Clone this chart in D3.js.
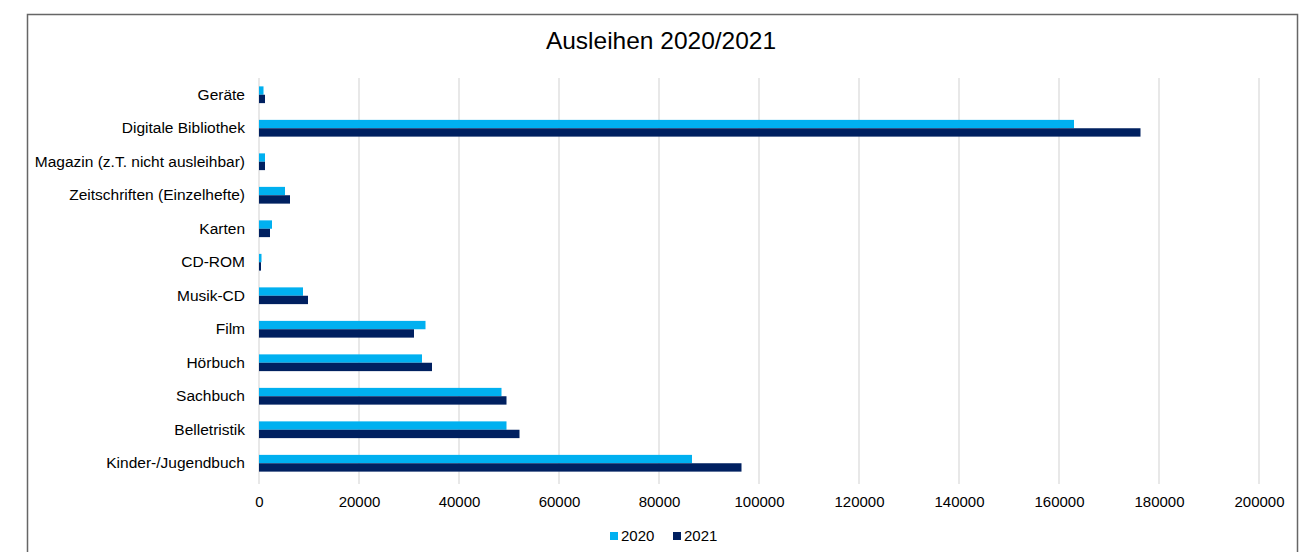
<!DOCTYPE html>
<html>
<head>
<meta charset="utf-8">
<script src="https://cdn.jsdelivr.net/npm/d3@7"></script>
<style>
  body { margin: 0; background: #fff; }
  svg text { font-family: "Liberation Sans", Arial, sans-serif; fill: #000; }
</style>
</head>
<body>
<div id="chart"></div>
<script>
// Daten (von oben nach unten)
const kategorien = [
    "Geräte",
    "Digitale Bibliothek",
    "Magazin (z.T. nicht ausleihbar)",
    "Zeitschriften (Einzelhefte)",
    "Karten",
    "CD-ROM",
    "Musik-CD",
    "Film",
    "Hörbuch",
    "Sachbuch",
    "Belletristik",
    "Kinder-/Jugendbuch"
];
const jahre = ["2020", "2021"];
const werte2020 = [900, 163000, 1200, 5200, 2600, 500, 8800, 33300, 32600, 48500, 49500, 86600];
const werte2021 = [1200, 176300, 1200, 6200, 2200, 400, 9800, 31000, 34600, 49500, 52100, 96500];
const xTicks = [0, 20000, 40000, 60000, 80000, 100000, 120000, 140000, 160000, 180000, 200000];
const farben = ["#00B0F0", "#002060"];

const W = 1316, H = 552;
const plot = { left: 259, right: 1259, top: 78, bottom: 480 };
const schrift = "'Liberation Sans', Arial, sans-serif";

const svg = d3.select("#chart").append("svg")
    .attr("width", W)
    .attr("height", H);

svg.append("rect")
    .attr("width", W).attr("height", H)
    .attr("fill", "#fff");

// Rahmen
svg.append("rect")
    .attr("x", 27.5).attr("y", 14.5)
    .attr("width", 1270).attr("height", 560)
    .attr("fill", "none")
    .attr("stroke", "#666")
    .attr("stroke-width", 1.5);

svg.append("text")
    .attr("x", 661).attr("y", 49)
    .attr("text-anchor", "middle")
    .style("font-size", "24.5px")
    .text("Ausleihen 2020/2021");

const x = d3.scaleLinear()
    .domain([0, 200000])
    .range([plot.left, plot.right]);

const y = d3.scaleBand()
    .domain(kategorien)
    .range([plot.top, plot.bottom])
    .paddingInner(0.5)
    .paddingOuter(0.25);

const y1 = d3.scaleBand()
    .domain(jahre)
    .range([0, y.bandwidth()]);

// Gitterlinien
svg.append("g")
    .selectAll("line")
    .data(xTicks)
    .enter()
    .append("line")
    .attr("x1", d => x(d)).attr("x2", d => x(d))
    .attr("y1", plot.top).attr("y2", plot.bottom + 4)
    .attr("stroke", "#d9d9d9")
    .attr("stroke-width", 1.2);

// X-Achse
const xAxis = svg.append("g")
    .attr("transform", `translate(0, ${plot.bottom})`)
    .call(d3.axisBottom(x).tickValues(xTicks).tickFormat(d3.format("d")).tickSize(0).tickPadding(16));
xAxis.select(".domain").remove();
xAxis.selectAll("text").style("font-size", "15px").style("font-family", schrift);

// Y-Achse
const yAxis = svg.append("g")
    .attr("transform", `translate(${plot.left}, 0)`)
    .call(d3.axisLeft(y).tickSize(0).tickPadding(14));
yAxis.select(".domain").remove();
yAxis.selectAll("text").style("font-size", "15.5px").style("font-family", schrift);

// Balken
const reihen = [werte2020, werte2021];
reihen.forEach((werte, i) => {
    svg.append("g")
        .selectAll("rect")
        .data(werte)
        .enter()
        .append("rect")
        .attr("x", x(0))
        .attr("y", (d, j) => y(kategorien[j]) + y1(jahre[i]))
        .attr("width", d => x(d) - x(0))
        .attr("height", y1.bandwidth())
        .attr("fill", farben[i]);
});

// Legende
const legende = svg.append("g").attr("transform", "translate(610, 536)");
const legX = [0, 63];
jahre.forEach((j, i) => {
    legende.append("rect")
        .attr("x", legX[i]).attr("y", -4)
        .attr("width", 8).attr("height", 8)
        .attr("fill", farben[i]);
    legende.append("text")
        .attr("x", legX[i] + 11).attr("y", 0)
        .attr("dy", "0.35em")
        .style("font-size", "15px")
        .text(j);
});
</script>
</body>
</html>
